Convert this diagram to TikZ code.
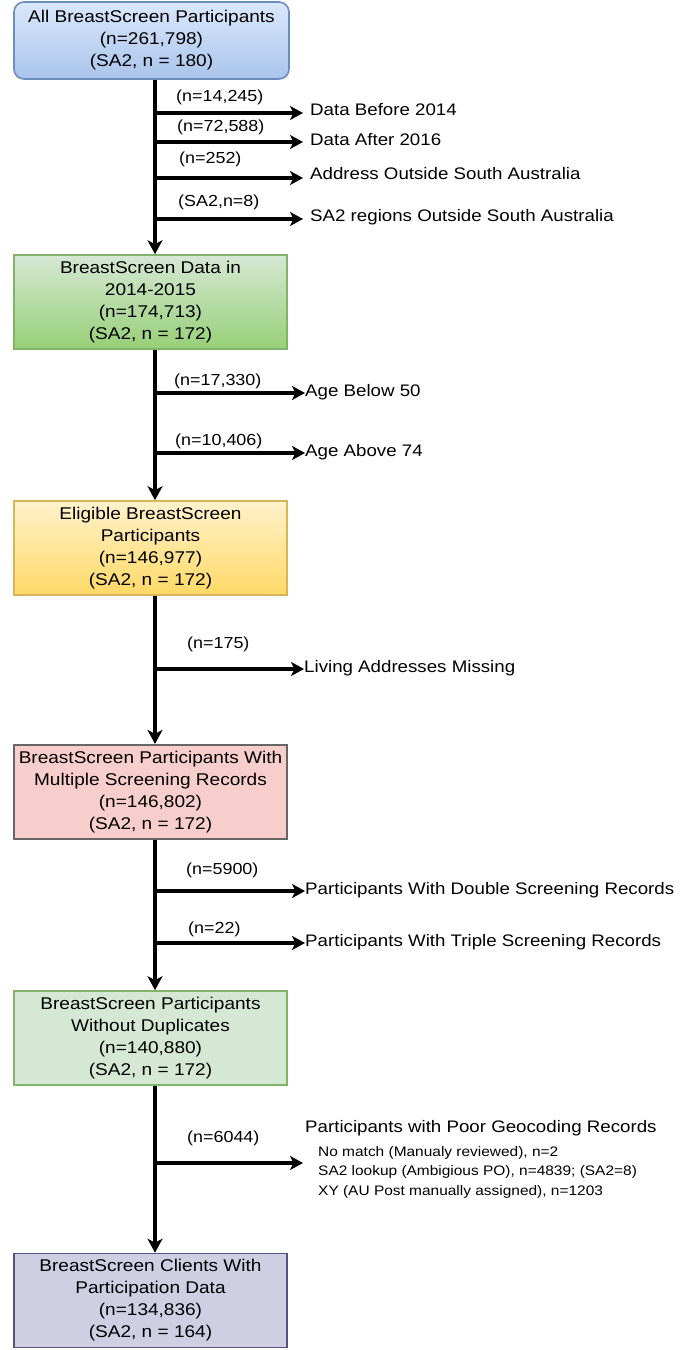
\documentclass[tikz,border=0pt]{standalone}
\usepackage{fontspec}
\setmainfont{Liberation Sans}[FakeStretch=1.12]
\usetikzlibrary{arrows.meta}
\definecolor{bAt}{HTML}{DAE8FC}\definecolor{bAb}{HTML}{A9C4EB}\definecolor{bAd}{HTML}{6C8EBF}
\definecolor{gAt}{HTML}{D5E8D4}\definecolor{gAb}{HTML}{97D077}\definecolor{gAd}{HTML}{82B366}
\definecolor{yAt}{HTML}{FFF2CC}\definecolor{yAb}{HTML}{FFD966}\definecolor{yAd}{HTML}{D6B656}
\definecolor{rA}{HTML}{F8CECC}\definecolor{rAd}{HTML}{666666}
\definecolor{gB}{HTML}{D5E8D4}\definecolor{gBd}{HTML}{82B366}
\definecolor{pA}{HTML}{D0CEE2}\definecolor{pAd}{HTML}{56517E}
\begin{document}
\begin{tikzpicture}[x=1pt,y=-1pt,
  box/.style={draw, line width=1.6pt, minimum width=273pt, minimum height=94pt,
    align=center, font=\fontsize{17}{22}\selectfont, inner sep=0pt},
  flow/.style={line width=3.8pt, -{Stealth[length=14pt,width=15pt,inset=4pt]}},
  branch/.style={line width=3.2pt, -{Stealth[length=13pt,width=14pt,inset=3.5pt]}},
  lab/.style={font=\fontsize{16}{19}\selectfont, anchor=west, inner sep=0pt},
  outtext/.style={font=\fontsize{16.7}{20}\selectfont, anchor=west, inner sep=0pt},
  smalltext/.style={font=\fontsize{13.8}{19.5}\selectfont, anchor=north west, align=left, inner sep=0pt},
]
\useasboundingbox (0,0) rectangle (683,1350);

% boxes
\node[box, rounded corners=10pt, minimum width=275pt, minimum height=77pt,
  top color=bAt, bottom color=bAb, draw=bAd] (n1) at (151.5,40.5)
  {All BreastScreen Participants\\(n=261,798)\\(SA2, n = 180)};
\node[box, top color=gAt, bottom color=gAb, draw=gAd] (n2) at (150.5,302)
  {BreastScreen Data in\\2014-2015\\(n=174,713)\\(SA2, n = 172)};
\node[box, top color=yAt, bottom color=yAb, draw=yAd] (n3) at (150.5,548)
  {Eligible BreastScreen\\Participants\\(n=146,977)\\(SA2, n = 172)};
\node[box, fill=rA, draw=rAd, line width=2.2pt] (n4) at (150.5,792)
  {BreastScreen Participants With\\Multiple Screening Records\\(n=146,802)\\(SA2, n = 172)};
\node[box, fill=gB, draw=gBd] (n5) at (150.5,1038)
  {BreastScreen Participants\\Without Duplicates\\(n=140,880)\\(SA2, n = 172)};
\node[box, fill=pA, draw=pAd] (n6) at (150.5,1300.5)
  {BreastScreen Clients With\\Participation Data\\(n=134,836)\\(SA2, n = 164)};

% spine coordinate
\coordinate (sx) at (155,0);

% main flow arrows
\draw[flow] (n1.south -| sx) -- (n2.north -| sx);
\draw[flow] (n2.south -| sx) -- (n3.north -| sx);
\draw[flow] (n3.south -| sx) -- (n4.north -| sx);
\draw[flow] (n4.south -| sx) -- (n5.north -| sx);
\draw[flow] (n5.south -| sx) -- (n6.north -| sx);

% exclusion texts
\node[outtext] (o1) at (310,110) {Data Before 2014};
\node[outtext] (o2) at (310,140) {Data After 2016};
\node[outtext] (o3) at (310,174) {Address Outside South Australia};
\node[outtext] (o4) at (310,217) {SA2 regions Outside South Australia};
\node[outtext] (o5) at (305,392) {Age Below 50};
\node[outtext] (o6) at (305,452) {Age Above 74};
\node[outtext] (o7) at (304,668) {Living Addresses Missing};
\node[outtext] (o8) at (305,890) {Participants With Double Screening Records};
\node[outtext] (o9) at (305,942) {Participants With Triple Screening Records};
\node[outtext] (o10) at (305,1128) {Participants with Poor Geocoding Records};
\node[smalltext] (o11) at (318,1146) {No match (Manualy reviewed), n=2\\SA2 lookup (Ambigious PO), n=4839; (SA2=8)\\XY (AU Post manually assigned), n=1203};

% branch start points on spine
\coordinate (b1) at (155,113);
\coordinate (b2) at (155,142);
\coordinate (b3) at (155,178);
\coordinate (b4) at (155,219);
\coordinate (b5) at (155,393);
\coordinate (b6) at (155,453);
\coordinate (b7) at (155,669);
\coordinate (b8) at (155,891);
\coordinate (b9) at (155,943);
\coordinate (b10) at (155,1163);
\coordinate (t10) at (303,1163);

\draw[branch] (b1) -- (b1 -| 303,0);
\draw[branch] (b2) -- (b2 -| 303,0);
\draw[branch] (b3) -- (b3 -| 303,0);
\draw[branch] (b4) -- (b4 -| 303,0);
\draw[branch] (b5) -- (b5 -| o5.west);
\draw[branch] (b6) -- (b6 -| o6.west);
\draw[branch] (b7) -- (b7 -| o7.west);
\draw[branch] (b8) -- (b8 -| o8.west);
\draw[branch] (b9) -- (b9 -| o9.west);
\draw[branch] (b10) -- (t10);

% count labels
\node[lab] (l1) at (176,97) {(n=14,245)};
\node[lab] (l2) at (177,127) {(n=72,588)};
\node[lab] (l3) at (179,159) {(n=252)};
\node[lab] (l4) at (178,202) {(SA2,n=8)};
\node[lab] (l5) at (174,381) {(n=17,330)};
\node[lab] (l6) at (175,441) {(n=10,406)};
\node[lab] (l7) at (187,644) {(n=175)};
\node[lab] (l8) at (186,870) {(n=5900)};
\node[lab] (l9) at (188,929) {(n=22)};
\node[lab] (l10) at (187,1138) {(n=6044)};
\end{tikzpicture}
\end{document}
